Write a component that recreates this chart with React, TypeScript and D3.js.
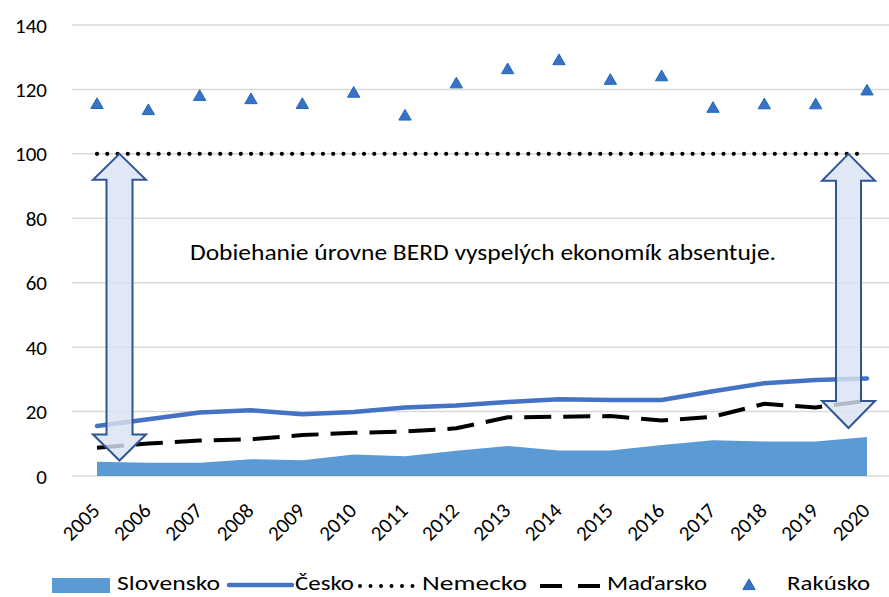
import React from "react";
import * as d3 from "d3";

const years = ["2005","2006","2007","2008","2009","2010","2011","2012","2013","2014","2015","2016","2017","2018","2019","2020"];
const slovensko = [4.4, 4.1, 4.1, 5.2, 4.9, 6.7, 6.1, 7.8, 9.3, 7.9, 7.9, 9.6, 11.1, 10.7, 10.7, 12.1];
const cesko = [15.5, 17.6, 19.7, 20.4, 19.2, 19.9, 21.3, 21.9, 23.0, 23.8, 23.6, 23.6, 26.3, 28.8, 29.8, 30.3];
const nemecko = [100, 100, 100, 100, 100, 100, 100, 100, 100, 100, 100, 100, 100, 100, 100, 100];
const madarsko = [8.8, 10.1, 11.0, 11.4, 12.7, 13.4, 13.8, 14.8, 18.2, 18.4, 18.6, 17.2, 18.4, 22.4, 21.3, 23.4];
const rakusko = [115.5, 113.6, 118.0, 117.0, 115.5, 119.0, 111.9, 121.9, 126.3, 129.1, 123.0, 124.1, 114.3, 115.4, 115.4, 119.7];
const yTicks = [0, 20, 40, 60, 80, 100, 120, 140];
const annotation = "Dobiehanie úrovne BERD vyspelých ekonomík absentuje.";
const legendNames = ["Slovensko", "Česko", "Nemecko", "Maďarsko", "Rakúsko"];

const FONT = "Carlito, Calibri, Lato, 'Open Sans', sans-serif";

export default function App() {
  const W = 889, H = 597;
  const x = d3.scalePoint<string>().domain(years).range([97, 867]);
  const y = d3.scaleLinear().domain([0, 140]).range([476, 25]);
  const gridX0 = 72, gridX1 = 889;

  const area = d3.area<number>()
    .x((_, i) => x(years[i])!)
    .y0(y(0))
    .y1((d) => y(d));
  const line = d3.line<number>()
    .x((_, i) => x(years[i])!)
    .y((d) => y(d));

  const tri = d3.symbol().type(d3.symbolTriangle).size(66)();

  // double-headed block arrow
  const arrow = (cx: number, yTop: number, yBot: number, headHalf: number, shaftHalf: number, headH: number) => {
    const p = [
      [cx, yTop],
      [cx + headHalf, yTop + headH],
      [cx + shaftHalf, yTop + headH],
      [cx + shaftHalf, yBot - headH],
      [cx + headHalf, yBot - headH],
      [cx, yBot],
      [cx - headHalf, yBot - headH],
      [cx - shaftHalf, yBot - headH],
      [cx - shaftHalf, yTop + headH],
      [cx - headHalf, yTop + headH],
    ];
    return "M" + p.map((q) => q.join(",")).join("L") + "Z";
  };

  const legendY = 585;
  const legendBase = 590;
  const legendText = [
    { x: 117, w: 103 },
    { x: 295, w: 59 },
    { x: 422, w: 105 },
    { x: 607, w: 100 },
    { x: 787, w: 83 },
  ];

  return (
    <svg width={W} height={H} style={{ position: "absolute", left: 0, top: 0, background: "#fff" }} fontFamily={FONT}>
      <rect x={0} y={0} width={W} height={H} fill="#fff" />
      {/* gridlines */}
      {yTicks.map((t) => (
        <line key={t} x1={gridX0} x2={gridX1} y1={y(t)} y2={y(t)} stroke="#d9d9d9" strokeWidth={1.5} />
      ))}
      {/* y labels */}
      {yTicks.map((t) => (
        <text key={"l" + t} x={47} y={y(t) + 7.5} textAnchor="end" fontSize={21} fill="#000">{t}</text>
      ))}
      {/* Slovensko area */}
      <path d={area(slovensko)!} fill="#5b9bd5" />
      {/* Česko */}
      <path d={line(cesko)!} fill="none" stroke="#4472c4" strokeWidth={4.5} strokeLinecap="round" strokeLinejoin="round" />
      {/* Maďarsko */}
      <path d={line(madarsko)!} fill="none" stroke="#000" strokeWidth={4} strokeDasharray="27 12" strokeLinecap="butt" />
      {/* Nemecko */}
      <path d={line(nemecko)!} fill="none" stroke="#000" strokeWidth={4.2} strokeDasharray="0 10.27" strokeLinecap="round" />
      {/* Rakúsko */}
      {rakusko.map((v, i) => (
        <path key={i} d={tri!} transform={`translate(${x(years[i])},${y(v) + 1})`} fill="#3b70c2" stroke="#1a6cc0" strokeWidth={1} />
      ))}
      {/* arrows */}
      <path d={arrow(119.5, y(100), 460.5, 26.5, 13, 26)} fill="#dae3f3" fillOpacity={0.82} stroke="#2f5597" strokeWidth={2} />
      <path d={arrow(848.5, y(100), 428, 26.5, 12.5, 27)} fill="#dae3f3" fillOpacity={0.82} stroke="#2f5597" strokeWidth={2} />
      {/* annotation */}
      <text x={483} y={259.5} textAnchor="middle" fontSize={22} fill="#000" textLength={586} lengthAdjust="spacingAndGlyphs">{annotation}</text>
      {/* x labels */}
      {years.map((yr) => (
        <text key={yr} transform={`translate(${x(yr)! + 4},${512}) rotate(-45)`} textAnchor="end" fontSize={21} fill="#000">{yr}</text>
      ))}
      {/* legend */}
      <g fontSize={21} fill="#000">
        <rect x={52} y={578} width={58} height={15} fill="#5b9bd5" />
        <line x1={229} x2={292} y1={legendY} y2={legendY} stroke="#4472c4" strokeWidth={4.5} strokeLinecap="round" />
        <line x1={360} x2={414} y1={legendY + 1} y2={legendY + 1} stroke="#000" strokeWidth={4} strokeDasharray="0 10.5" strokeLinecap="round" />
        <line x1={540} x2={600} y1={legendY + 1} y2={legendY + 1} stroke="#000" strokeWidth={4} strokeDasharray="22 16" />
        <path d={tri!} transform={`translate(749,${legendY + 1})`} fill="#3b70c2" stroke="#1a6cc0" strokeWidth={1} />
        {legendNames.map((n, i) => (
          <text key={n} x={legendText[i].x} y={legendBase} textLength={legendText[i].w} lengthAdjust="spacingAndGlyphs">{n}</text>
        ))}
      </g>
    </svg>
  );
}
